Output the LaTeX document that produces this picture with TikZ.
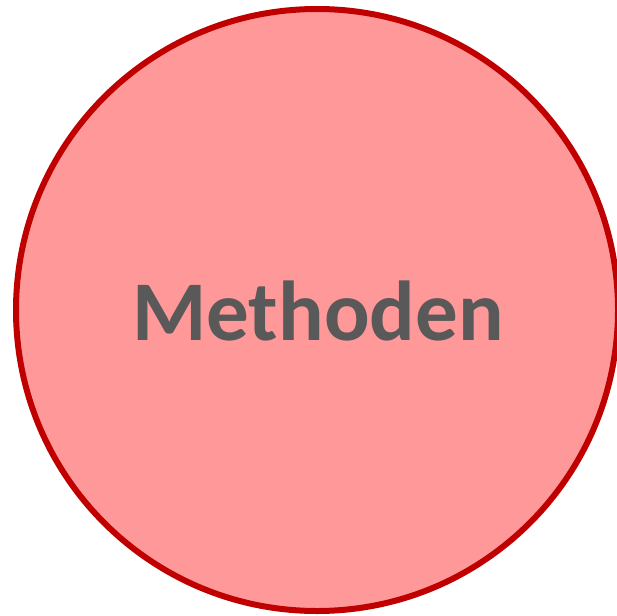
\documentclass[tikz,border=0pt]{standalone}
\usepackage{fontspec}
\setmainfont{Carlito}
\definecolor{ringred}{HTML}{C00000}
\definecolor{fillpink}{HTML}{FF9999}
\definecolor{textgray}{HTML}{595959}
\begin{document}
\begin{tikzpicture}[x=1pt,y=-1pt,
  circ/.style={draw=ringred,fill=fillpink,line width=6pt},
  lbl/.style={text=textgray,font=\fontsize{85}{85}\selectfont\bfseries,inner sep=0pt}]
\useasboundingbox (0,0) rectangle (617,615);
\draw[circ] (317,310) circle[radius=301];
\node[lbl,anchor=base] (t) at (318,340) {Methoden};
\end{tikzpicture}
\end{document}
